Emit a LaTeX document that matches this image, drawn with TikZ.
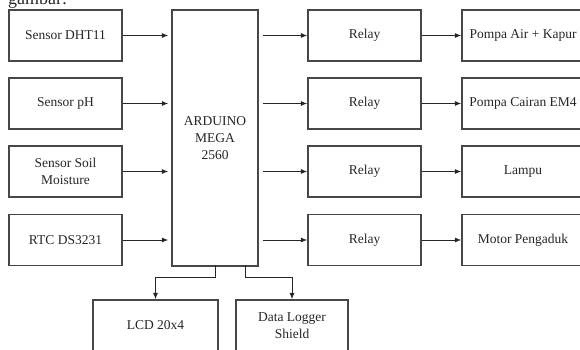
\documentclass[tikz,border=0pt]{standalone}
\usepackage{fontspec}
\setmainfont{Liberation Serif}
\usetikzlibrary{arrows.meta}
\begin{document}
\begin{tikzpicture}[x=1pt,y=-1pt,
  blk/.style={draw=black!72, line width=1.2pt, inner sep=0pt, align=center,
    font=\fontsize{13.5}{17}\selectfont, text=black!85},
  sbox/.style={blk, minimum width=113pt, minimum height=51pt},
  arr/.style={draw=black!85, line width=1pt, -{Latex[length=6.5pt,width=5pt]}}
]
\useasboundingbox (0,0) rectangle (580,350);
\clip (0,0) rectangle (580,350);
% caption fragment
\node[anchor=base west, inner sep=0pt, font=\fontsize{18}{18}\selectfont, text=black!85] (cap) at (8,5) {gambar:};
% sensors
\node[sbox] (s1) at (65.5,35.5) {Sensor DHT11};
\node[sbox] (s2) at (65.5,103.5) {Sensor pH};
\node[sbox] (s3) at (65.5,171.5) {Sensor Soil\\Moisture};
\node[sbox] (s4) at (65.5,240) {RTC DS3231};
% arduino
\node[blk, minimum width=86pt, minimum height=256pt] (ard) at (215,138) {ARDUINO\\MEGA\\2560};
% relays
\node[sbox] (r1) at (364.5,35.5) {Relay};
\node[sbox] (r2) at (364.5,103.5) {Relay};
\node[sbox] (r3) at (364.5,171.5) {Relay};
\node[sbox] (r4) at (364.5,240) {Relay};
% outputs
\node[blk, minimum width=122pt, minimum height=51pt] (o1) at (523,35.5) {Pompa Air + Kapur};
\node[blk, minimum width=122pt, minimum height=51pt] (o2) at (523,103.5) {Pompa Cairan EM4};
\node[blk, minimum width=122pt, minimum height=51pt] (o3) at (523,171.5) {Lampu};
\node[blk, minimum width=122pt, minimum height=51pt] (o4) at (523,240) {Motor Pengaduk};
% bottom
\node[blk, minimum width=125pt, minimum height=51pt] (lcd) at (155.5,325.5) {LCD 20x4};
\node[blk, minimum width=112pt, minimum height=51pt, font=\fontsize{13.5}{16.5}\selectfont] (dl) at (292,325.5) {Data Logger\\Shield};
% arrows sensors -> arduino
\foreach \s in {s1,s2,s3,s4}{
  \draw[arr, shorten >=3pt] (\s.east) -- (\s.east -| ard.west);
}
% arduino -> relays -> outputs
\foreach \r/\o in {r1/o1,r2/o2,r3/o3,r4/o4}{
  \draw[arr, shorten <=4pt] (ard.east |- \r.west) -- (\r.west);
  \draw[arr] (\r.east) -- (\o.west);
}
% arduino -> bottom
\coordinate (a1) at (215,265);
\coordinate (a2) at (245,265);
\draw[arr] (a1) -- (215,277.5) -| (lcd.north);
\draw[arr] (a2) -- (245,277.5) -| (dl.north);
\end{tikzpicture}
\end{document}
